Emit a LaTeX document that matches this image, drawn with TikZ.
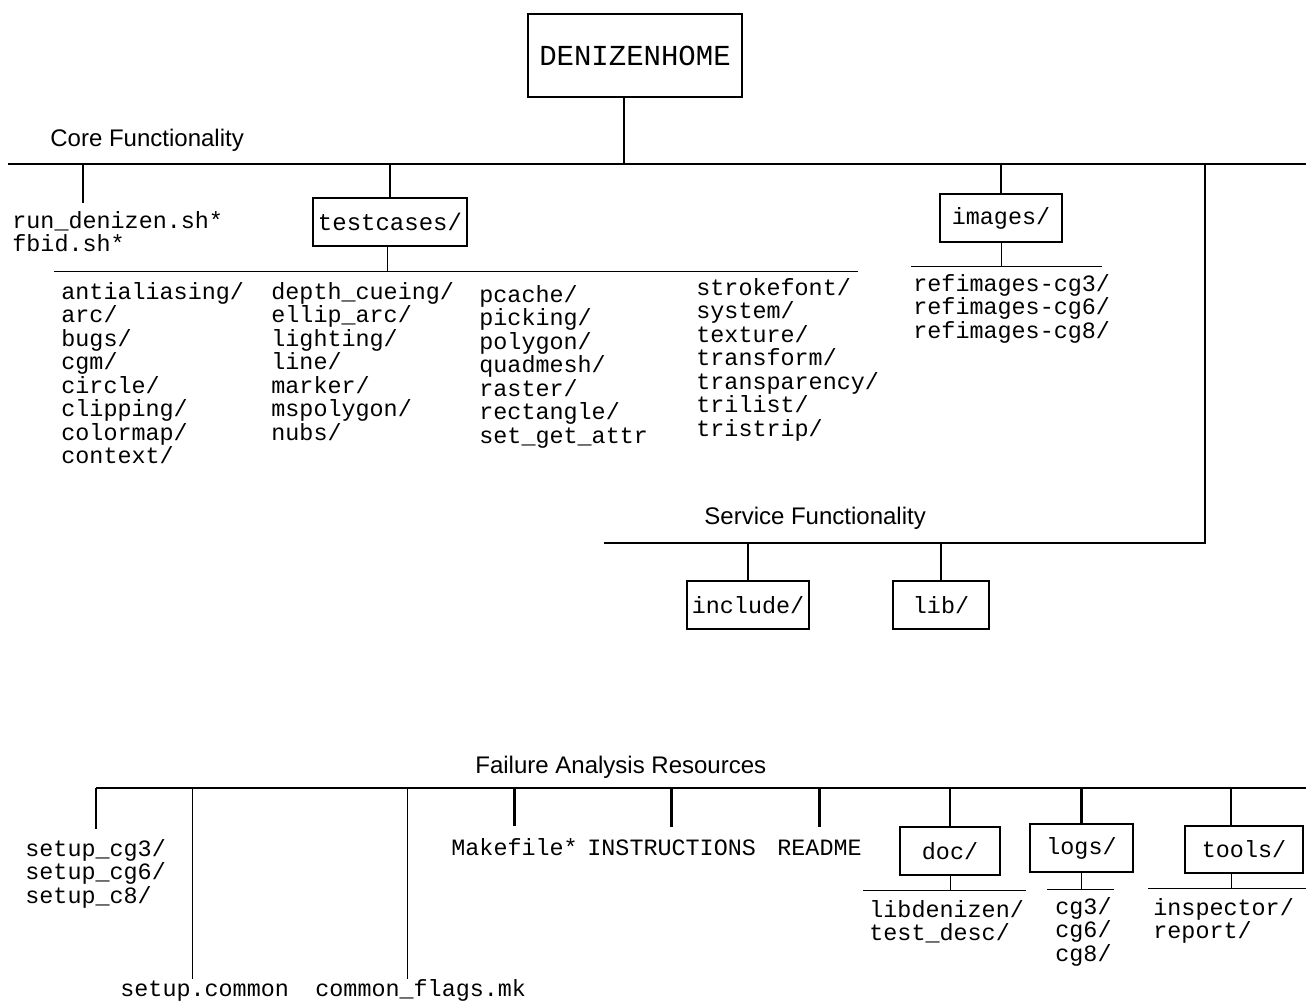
\documentclass[tikz,border=0pt]{standalone}
\usepackage{fontspec}
\setmainfont{Liberation Sans}
\setmonofont{Liberation Mono}
\usetikzlibrary{positioning}

\begin{document}
\begin{tikzpicture}[
    x=0.5pt, y=-0.5pt,
    bus/.style={line width=1.2pt},
    twig/.style={line width=0.5pt},
    dirbox/.style={rectangle, draw, line width=1.2pt, inner sep=0pt, font=\ttfamily\fontsize{11.7}{11.75}\selectfont},
    files/.style={anchor=north west, inner sep=0pt, align=left, font=\ttfamily\fontsize{11.7}{11.75}\selectfont},
    fname/.style={anchor=base west, inner sep=0pt, font=\ttfamily\fontsize{11.7}{11.75}\selectfont},
    area/.style={anchor=base west, inner sep=0pt, font=\fontsize{12}{14}\selectfont}
]
\useasboundingbox (0,0) rectangle (1306,1004);

% Top level
\node[dirbox, minimum width=107pt, minimum height=41.5pt, font=\ttfamily\fontsize{14.5}{14.5}\selectfont] (home) at (635,55.5) {DENIZENHOME};

% Core Functionality
\coordinate (coreL) at (8,164);
\coordinate (coreR) at (1306,164);
\draw[bus] (coreL) -- (coreR);
\draw[bus] ([xshift=-5.5pt]home.south) -- ([xshift=-5.5pt]home.south |- coreL);
\node[area] (corelbl) at (50,147) {Core Functionality};

\coordinate (runtap) at (83,203);
\draw[bus] (runtap) -- (runtap |- coreL);
\node[files] (scripts) at (12,211) {run\_denizen.sh*\\fbid.sh*};

\node[dirbox, minimum width=77pt, minimum height=24pt, font=\ttfamily\fontsize{12}{12}\selectfont] (tc) at (390,222) {testcases/};
\draw[bus] (tc.north) -- (tc.north |- coreL);
\coordinate (tcL) at (54,272);
\coordinate (tcR) at (858,272);
\draw[twig] (tcL) -- (tcR);
\draw[twig] ([xshift=-1.5pt]tc.south) -- ([xshift=-1.5pt]tc.south |- tcL);
\node[files] (tcA) at (61,282) {antialiasing/\\arc/\\bugs/\\cgm/\\circle/\\clipping/\\colormap/\\context/};
\node[files] (tcB) at (271,282) {depth\_cueing/\\ellip\_arc/\\lighting/\\line/\\marker/\\mspolygon/\\nubs/};
\node[files] (tcC) at (479,285) {pcache/\\picking/\\polygon/\\quadmesh/\\raster/\\rectangle/\\set\_get\_attr};
\node[files] (tcD) at (696,278) {strokefont/\\system/\\texture/\\transform/\\transparency/\\trilist/\\tristrip/};

\node[dirbox, minimum width=61pt, minimum height=24pt] (img) at (1001,218) {images/};
\draw[bus] (img.north) -- (img.north |- coreL);
\coordinate (imgL) at (911,267);
\coordinate (imgR) at (1102,267);
\draw[twig] (imgL) -- (imgR);
\draw[twig] (img.south) -- (img.south |- imgL);
\node[files] (refimg) at (913,274) {refimages-cg3/\\refimages-cg6/\\refimages-cg8/};

% Service Functionality
\coordinate (svcL) at (604,543);
\coordinate (svcR) at (1205,543);
\draw[bus] (svcL) -- (svcR) -- (svcR |- coreL);
\node[area] (svclbl) at (704,525) {Service Functionality};
\node[dirbox, minimum width=61pt, minimum height=24pt] (inc) at (748,605) {include/};
\node[dirbox, minimum width=48pt, minimum height=24pt] (lib) at (941,605) {lib/};
\draw[bus] (inc.north) -- (inc.north |- svcL);
\draw[bus] (lib.north) -- (lib.north |- svcL);

% Failure Analysis Resources
\coordinate (failL) at (96,788);
\coordinate (failR) at (1306,788);
\draw[bus] (failL) -- (failR);
\node[area] (faillbl) at (475,773) {Failure Analysis Resources};

\coordinate (setuptap) at (96,829);
\draw[bus] (failL) -- (setuptap);
\node[files] (setups) at (25,839) {setup\_cg3/\\setup\_cg6/\\setup\_c8/};

\node[fname] (common) at (120,996) {setup.common};
\node[fname] (flags) at (315,996) {common\_flags.mk};
\coordinate (commontap) at (192,979);
\coordinate (flagstap) at (407,979);
\draw[twig] (commontap) -- (commontap |- failL);
\draw[twig] (flagstap) -- (flagstap |- failL);

\node[fname] (make) at (451,855) {Makefile*};
\node[fname] (instr) at (587,855) {INSTRUCTIONS};
\node[fname] (readme) at (777,855) {README};
\draw[bus] ([yshift=6pt]make.north) -- (make.north |- failL);
\draw[bus] ([yshift=6pt]instr.north) -- (instr.north |- failL);
\draw[bus] ([yshift=6pt]readme.north) -- (readme.north |- failL);

\node[dirbox, minimum width=50pt, minimum height=24pt] (doc) at (950,851) {doc/};
\draw[bus] (doc.north) -- (doc.north |- failL);
\coordinate (docL) at (863,890);
\coordinate (docR) at (1026,890);
\draw[twig] (docL) -- (docR);
\draw[twig] (doc.south) -- (doc.south |- docL);
\node[files] (docs) at (869,900) {libdenizen/\\test\_desc/};

\node[dirbox, minimum width=51.5pt, minimum height=24pt] (logs) at (1081.5,848) {logs/};
\draw[bus] (logs.north) -- (logs.north |- failL);
\coordinate (logsL) at (1047,889);
\coordinate (logsR) at (1114,889);
\draw[twig] (logsL) -- (logsR);
\draw[twig] (logs.south) -- (logs.south |- logsL);
\node[files] (logdirs) at (1055,897) {cg3/\\cg6/\\cg8/};

\node[dirbox, minimum width=59pt, minimum height=23.5pt] (tools) at (1244,849.5) {tools/};
\draw[bus] ([xshift=-6.5pt]tools.north) -- ([xshift=-6.5pt]tools.north |- failL);
\coordinate (toolsL) at (1148,888);
\coordinate (toolsR) at (1306,888);
\draw[twig] (toolsL) -- (toolsR);
\draw[twig] ([xshift=-6.5pt]tools.south) -- ([xshift=-6.5pt]tools.south |- toolsL);
\node[files] (tooldirs) at (1153,898) {inspector/\\report/};

\end{tikzpicture}
\end{document}
